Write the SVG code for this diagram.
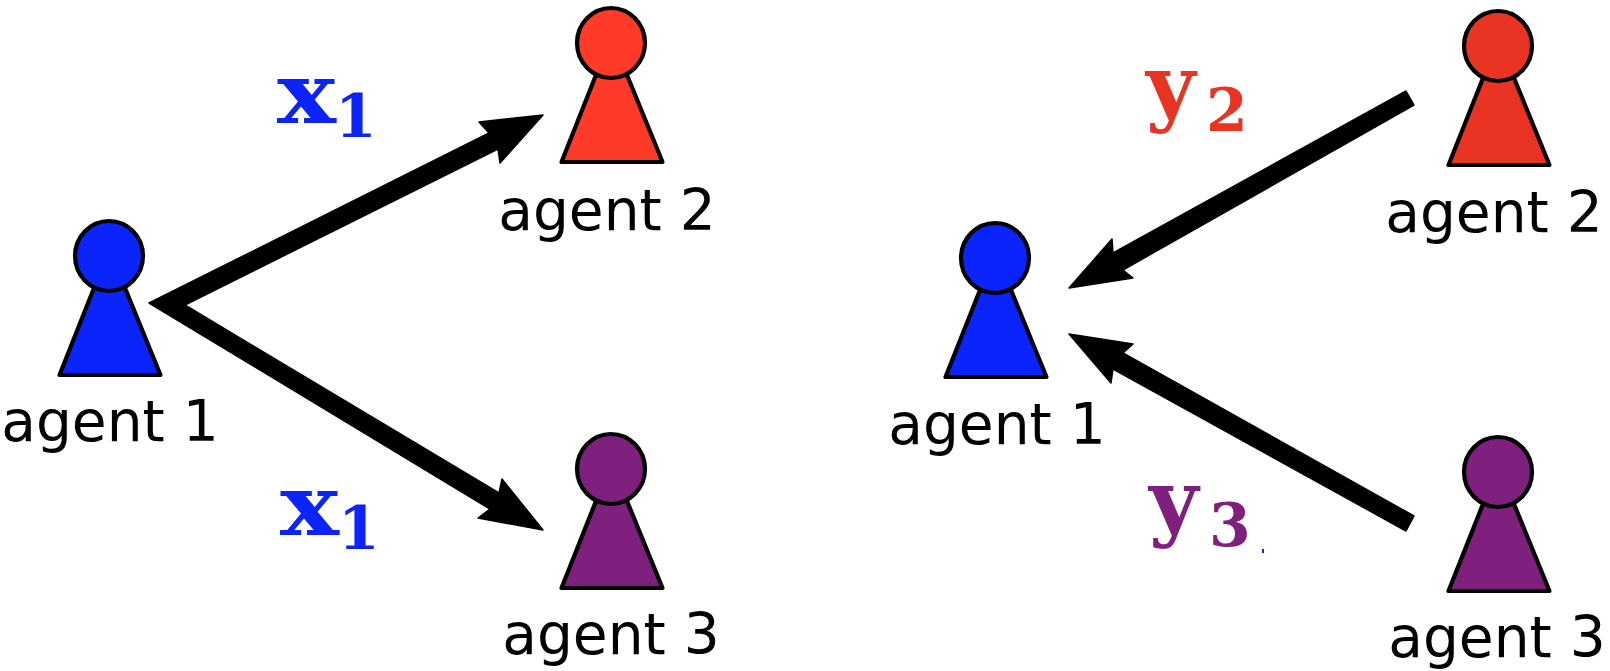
<svg xmlns="http://www.w3.org/2000/svg" width="1610" height="671" viewBox="0 0 1610 671">
<style>
.p{stroke:#000;stroke-width:4.2;stroke-linejoin:round}
.l{font-family:"DejaVu Sans",sans-serif;font-size:56.6px;fill:#000;text-anchor:middle}
.m{font-family:"DejaVu Serif","Liberation Serif",serif;font-weight:bold}
.big{font-size:85px}.sub{font-size:60px}
.b{fill:#0b24fb}.r{fill:#ff3a28}.r2{fill:#e93323}.v{fill:#7f1f7e}
.h{fill:#000;stroke:#000;stroke-width:1.5;stroke-linejoin:round}
</style>
<defs>
<g id="pawn"><path d="M-15 32L-49.500 119H51.500L16 32Z"/><ellipse cx="0" cy="0" rx="34" ry="35"/></g>
</defs>
<g id="connectors">
<path class="h" d="M149 303L489 133L479 122L543 115L500 163L498 149L185 305L499 493L502 479L543 530L478 518L490 509Z"/>
<path class="h" d="M1406 91L1113 253L1112 239L1069 288L1133 278L1123 270L1414 105Z"/>
<path class="h" d="M1414 516L1123 353L1133 344L1069 334L1111 383L1113 369L1406 531Z"/>
</g>
<g id="agent1-left"><use href="#pawn" x="109" y="256" class="p b"/><text class="l" x="110" y="441">agent 1</text></g>
<g id="agent2-left"><use href="#pawn" x="611" y="43" class="p r"/><text class="l" x="607" y="230">agent 2</text></g>
<g id="agent3-left"><use href="#pawn" x="611" y="469" class="p v"/><text class="l" x="611" y="654">agent 3</text></g>
<g id="agent1-right"><use href="#pawn" x="995" y="258" class="p b"/><text class="l" x="997" y="444">agent 1</text></g>
<g id="agent2-right"><use href="#pawn" x="1498" y="46" class="p r2"/><text class="l" x="1494" y="232">agent 2</text></g>
<g id="agent3-right"><use href="#pawn" x="1498" y="472" class="p v"/><text class="l" x="1497" y="657">agent 3</text></g>
<g id="labels">
<text class="m b big" x="277" y="123" textLength="59" lengthAdjust="spacingAndGlyphs">x</text><text class="m b sub" x="335" y="137">1</text>
<text class="m b big" x="280" y="535" textLength="59" lengthAdjust="spacingAndGlyphs">x</text><text class="m b sub" x="338" y="549">1</text>
<text class="m r2 big" x="1146" y="115">y</text><text class="m r2 sub" x="1206" y="131">2</text>
<text class="m v big" x="1149" y="530">y</text><text class="m v sub" x="1209" y="546">3</text>
</g>
<rect x="1262" y="549" width="2" height="4" fill="#0b24fb"/>
</svg>
